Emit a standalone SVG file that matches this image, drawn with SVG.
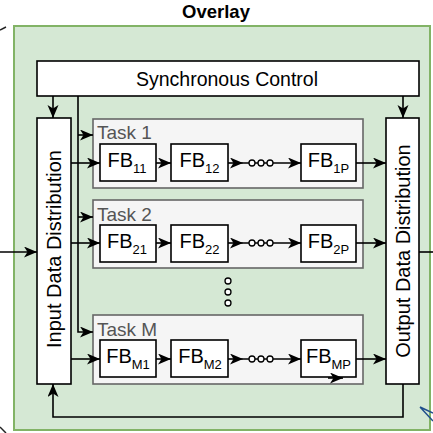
<svg xmlns="http://www.w3.org/2000/svg" width="433" height="433" viewBox="0 0 433 433">
  <style>
    text { font-family: "Liberation Sans", Arial, sans-serif; fill: #000; }
    .box { fill: #fff; stroke: #000; stroke-width: 1.6; }
    .task { fill: #f5f5f5; stroke: #666; stroke-width: 1.6; }
    .tlabel { font-size: 19px; fill: #555; }
    .fb { font-size: 20px; text-anchor: middle; }
    .sub { font-size: 13px; }
    .vlabel { font-size: 20px; text-anchor: middle; }
    .edge { fill: none; stroke: #000; stroke-width: 1.6; }
    .dot { fill: #fff; stroke: #000; stroke-width: 1.3; }
  </style>
  <defs>
    <marker id="arr" markerUnits="userSpaceOnUse" markerWidth="14" markerHeight="12" refX="13" refY="5.5" orient="auto">
      <path d="M0,0 L13,5.5 L0,11 L3.5,5.5 z" fill="#000"/>
    </marker>
  </defs>

  <rect width="433" height="433" fill="#fff"/>

  <!-- stray strokes at the edges -->
  <line x1="0" y1="30" x2="6" y2="27" stroke="#222" stroke-width="1.5"/>
  <line x1="0" y1="427" x2="6" y2="433" stroke="#222" stroke-width="1.5"/>

  <!-- overlay container -->
  <g id="overlay">
    <rect x="14" y="26" width="416" height="404" fill="#d5e8d4" stroke="#82b366" stroke-width="2"/>
    <text x="216" y="18" font-size="18.5" font-weight="bold" text-anchor="middle">Overlay</text>
  </g>

  <path d="M420,407 L433,421 M420,407 L433,413" fill="none" stroke="#1f4e8c" stroke-width="1.5"/>

  <g id="sync-control">
    <rect class="box" x="37" y="61" width="382" height="35"/>
    <text x="227" y="86" font-size="19.5" text-anchor="middle">Synchronous Control</text>
  </g>

  <g id="input-dist">
    <rect class="box" x="37" y="118" width="34" height="266"/>
    <text class="vlabel" transform="translate(61,249) rotate(-90)">Input Data Distribution</text>
  </g>

  <g id="output-dist">
    <rect class="box" x="386" y="118" width="33" height="266"/>
    <text class="vlabel" transform="translate(410,251) rotate(-90)">Output Data Distribution</text>
  </g>

  <g id="task-1">
    <rect class="task" x="93" y="119" width="270" height="69"/>
    <text class="tlabel" x="97" y="139">Task 1</text>
  </g>
  <g id="task-2">
    <rect class="task" x="93" y="200" width="270" height="68"/>
    <text class="tlabel" x="97" y="221">Task 2</text>
  </g>
  <g id="task-m">
    <rect class="task" x="93" y="315" width="270" height="69"/>
    <text class="tlabel" x="97" y="336">Task M</text>
  </g>

  <g id="fb-11"><rect class="box" x="100" y="144" width="56" height="37"/><text class="fb" x="127" y="167">FB<tspan class="sub" dy="6">11</tspan></text></g>
  <g id="fb-12"><rect class="box" x="171" y="144" width="57" height="37"/><text class="fb" x="199.5" y="167">FB<tspan class="sub" dy="6">12</tspan></text></g>
  <g id="fb-1p"><rect class="box" x="301" y="144" width="55" height="37"/><text class="fb" x="328.5" y="167">FB<tspan class="sub" dy="6">1P</tspan></text></g>

  <g id="fb-21"><rect class="box" x="100" y="225" width="56" height="37"/><text class="fb" x="127" y="248">FB<tspan class="sub" dy="6">21</tspan></text></g>
  <g id="fb-22"><rect class="box" x="171" y="225" width="57" height="37"/><text class="fb" x="199.5" y="248">FB<tspan class="sub" dy="6">22</tspan></text></g>
  <g id="fb-2p"><rect class="box" x="301" y="225" width="55" height="37"/><text class="fb" x="328.5" y="248">FB<tspan class="sub" dy="6">2P</tspan></text></g>

  <g id="fb-m1"><rect class="box" x="100" y="340" width="56" height="37"/><text class="fb" x="128" y="363">FB<tspan class="sub" dy="6">M1</tspan></text></g>
  <g id="fb-m2"><rect class="box" x="171" y="340" width="57" height="37"/><text class="fb" x="200" y="363">FB<tspan class="sub" dy="6">M2</tspan></text></g>
  <g id="fb-mp"><rect class="box" x="301" y="340" width="55" height="37"/><text class="fb" x="328.5" y="363">FB<tspan class="sub" dy="6">MP</tspan></text></g>

  <!-- vertical ellipsis between tasks -->
  <g id="task-ellipsis">
    <circle class="dot" cx="228" cy="281" r="3"/>
    <circle class="dot" cx="228" cy="292" r="3"/>
    <circle class="dot" cx="228" cy="303" r="3"/>
  </g>

  <g id="connectors">
    <!-- external data in/out -->
    <path class="edge" d="M0,252 H37" marker-end="url(#arr)"/>
    <path class="edge" d="M419,252 H433"/>

    <!-- control to distribution blocks -->
    <path class="edge" d="M53,96 V118" marker-end="url(#arr)"/>
    <path class="edge" d="M403,96 V118" marker-end="url(#arr)"/>

    <!-- control bus to tasks -->
    <path class="edge" d="M78,96 V332 H93" marker-end="url(#arr)"/>
    <path class="edge" d="M78,135 H93" marker-end="url(#arr)"/>
    <path class="edge" d="M78,217 H93" marker-end="url(#arr)"/>

    <!-- feedback loop -->
    <path class="edge" d="M403,384 V417 H53 V384" marker-end="url(#arr)"/>

    <!-- row 1 -->
    <path class="edge" d="M71,163 H100" marker-end="url(#arr)"/>
    <path class="edge" d="M156,163 H171" marker-end="url(#arr)"/>
    <path class="edge" d="M228,163 H243" marker-end="url(#arr)"/>
    <path class="edge" d="M243,163 H301" marker-end="url(#arr)"/>
    <circle class="dot" cx="252" cy="163" r="3"/>
    <circle class="dot" cx="261" cy="163" r="3"/>
    <circle class="dot" cx="270" cy="163" r="3"/>
    <path class="edge" d="M356,163 H386" marker-end="url(#arr)"/>

    <!-- row 2 -->
    <path class="edge" d="M71,243 H100" marker-end="url(#arr)"/>
    <path class="edge" d="M156,243 H171" marker-end="url(#arr)"/>
    <path class="edge" d="M228,243 H243" marker-end="url(#arr)"/>
    <path class="edge" d="M243,243 H301" marker-end="url(#arr)"/>
    <circle class="dot" cx="252" cy="243" r="3"/>
    <circle class="dot" cx="261" cy="243" r="3"/>
    <circle class="dot" cx="270" cy="243" r="3"/>
    <path class="edge" d="M356,243 H386" marker-end="url(#arr)"/>

    <!-- row M -->
    <path class="edge" d="M71,359 H100" marker-end="url(#arr)"/>
    <path class="edge" d="M156,359 H171" marker-end="url(#arr)"/>
    <path class="edge" d="M228,359 H243" marker-end="url(#arr)"/>
    <path class="edge" d="M243,359 H301" marker-end="url(#arr)"/>
    <circle class="dot" cx="252" cy="359" r="3"/>
    <circle class="dot" cx="261" cy="359" r="3"/>
    <circle class="dot" cx="270" cy="359" r="3"/>
    <path class="edge" d="M356,359 H386" marker-end="url(#arr)"/>
    <path class="edge" d="M328,378 H343" marker-end="url(#arr)"/>
  </g>
</svg>
